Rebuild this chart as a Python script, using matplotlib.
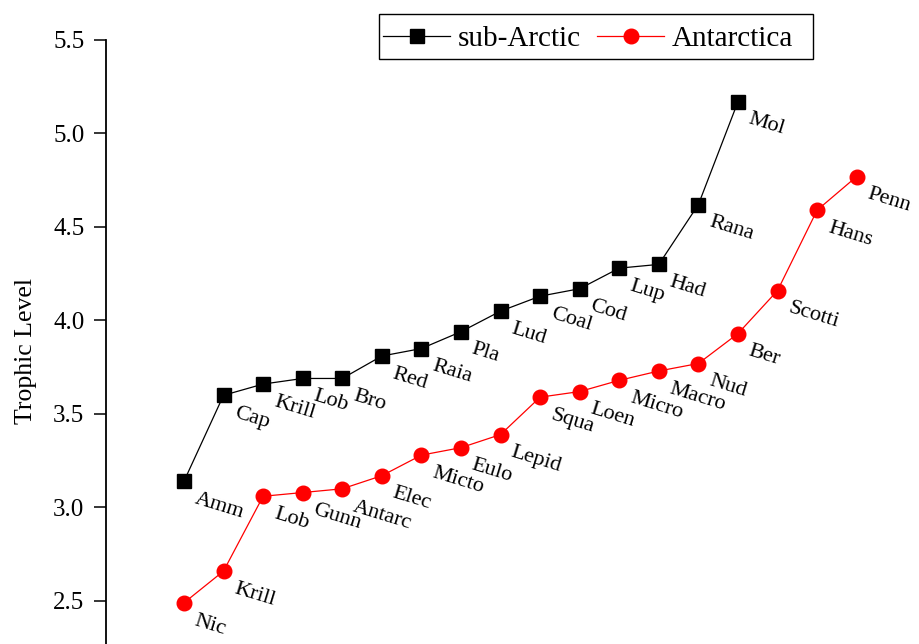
import matplotlib.pyplot as plt
from matplotlib.patches import Rectangle
import numpy as np

plt.rcParams["font.family"] = ["Liberation Serif", "DejaVu Serif"]

# Trophic levels by species (ordered by increasing level)
arctic_names = ["Amm", "Cap", "Krill", "Lob", "Bro", "Red", "Raia", "Pla",
                "Lud", "Coal", "Cod", "Lup", "Had", "Rana", "Mol"]
arctic_tl = [3.14, 3.60, 3.66, 3.69, 3.69, 3.81, 3.85, 3.94,
             4.05, 4.13, 4.17, 4.28, 4.30, 4.62, 5.17]

antarctic_names = ["Nic", "Krill", "Lob", "Gunn", "Antarc", "Elec", "Micto", "Eulo",
                   "Lepid", "Squa", "Loen", "Micro", "Macro", "Nud", "Ber",
                   "Scotti", "Hans", "Penn"]
antarctic_tl = [2.49, 2.66, 3.06, 3.08, 3.10, 3.17, 3.28, 3.32,
                3.39, 3.59, 3.62, 3.68, 3.73, 3.77, 3.93,
                4.16, 4.59, 4.77]


def label_points(ax, xs, ys, names):
    for x, y, name in zip(xs, ys, names):
        ax.annotate(name, (x, y), xytext=(10, -6), textcoords="offset points",
                    ha="left", va="top", rotation=-17, rotation_mode="anchor",
                    fontsize=16, color="black", annotation_clip=False)


W, H = 920, 644
fig = plt.figure(figsize=(W / 100, H / 100), dpi=100, facecolor="white")
ax = fig.add_axes([106 / W, 0.0, 1 - 106 / W, 1 - 40 / H])

x_arc = np.arange(len(arctic_tl))
x_ant = np.arange(len(antarctic_tl))

ax.plot(x_arc, arctic_tl, color="black", linewidth=0.9, marker="s",
        markersize=9.5, markerfacecolor="black", markeredgecolor="black",
        label="sub-Arctic", clip_on=False)
ax.plot(x_ant, antarctic_tl, color="red", linewidth=0.9, marker="o",
        markersize=10.5, markerfacecolor="red", markeredgecolor="red",
        label="Antarctica", clip_on=False)

label_points(ax, x_arc, arctic_tl, arctic_names)
label_points(ax, x_ant, antarctic_tl, antarctic_names)

ax.set_xlim(-1.97, 18.6)
ax.set_ylim(2.27, 5.5)
ax.set_yticks([2.5, 3.0, 3.5, 4.0, 4.5, 5.0, 5.5])
ax.set_yticklabels(["2.5", "3.0", "3.5", "4.0", "4.5", "5.0", "5.5"])
ax.tick_params(axis="y", direction="out", length=8.5, width=1.1,
               labelsize=18, pad=7)
ax.set_xticks([])
for side in ["top", "right", "bottom"]:
    ax.spines[side].set_visible(False)
ax.spines["left"].set_linewidth(1.3)
ax.set_ylabel("Trophic Level", fontsize=18.5)
ax.yaxis.set_label_coords(-0.085, 0.485)

# legend entries without frame, box drawn separately so it can be padded on the right
leg = ax.legend(loc="center left", bbox_to_anchor=(383 / W, 1 - 38.5 / H),
                bbox_transform=fig.transFigure, ncol=2, fontsize=21,
                frameon=False, handlelength=2.3,
                columnspacing=0.55, handletextpad=0.27, borderpad=0.0,
                borderaxespad=0)
fig.add_artist(Rectangle((379 / W, 1 - 59 / H), (813 - 379) / W, 45 / H,
                         transform=fig.transFigure, fill=False,
                         edgecolor="black", linewidth=1.0))

fig.savefig("out.png", dpi=100, facecolor="white")
